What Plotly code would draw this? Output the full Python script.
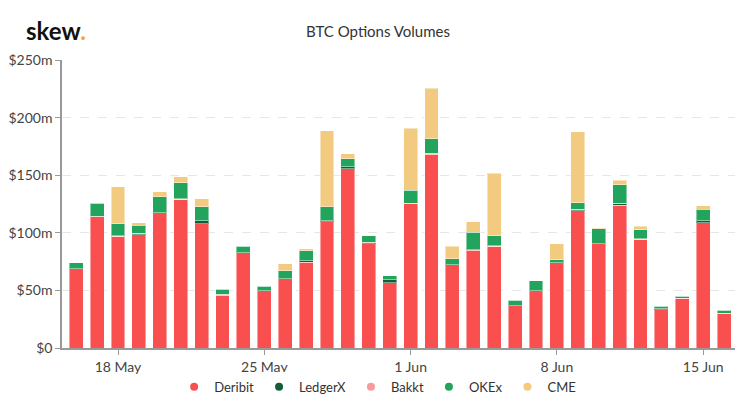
import plotly.graph_objects as go
import pandas as pd

dates = pd.date_range("2020-05-16", "2020-06-16", freq="D")

deribit = [69, 114, 97, 98.2, 117.3, 129.2, 108, 45.8, 82.5, 49.5, 60.2, 74.4, 109.5, 155.5, 90.6, 56.8,
           125.4, 168, 72.1, 84.9, 88.3, 36.8, 49.5, 73.8, 119, 90.6, 124, 94.4, 33.3, 42.9, 108.6, 29.8]
ledgerx = [0, 0.5, 0, 1.4, 0, 0, 2.6, 0.8, 0, 0, 0, 1.2, 0.8, 1.8, 1.2, 2.3,
           0, 1.1, 0.3, 0.5, 0, 0, 0, 0, 1.5, 0, 1.7, 0, 0.6, 0, 1.7, 0]
bakkt = [0, 0, 0.3, 0, 0.3, 0.3, 0, 0, 0, 0, 0, 0, 0, 0, 0, 0,
         0.3, 0, 0, 0, 0.6, 0, 0.3, 0, 0, 0, 0, 0.3, 0, 0.3, 0, 0.3]
okex = [5, 11, 10.7, 7, 13.9, 14.1, 11.9, 4.4, 5.8, 4.1, 7, 8.7, 12.2, 7.2, 5.8, 3.5,
        11.3, 12.5, 4.9, 15.1, 8.4, 4.6, 8.4, 2.9, 5.8, 12.8, 16.2, 7.8, 2.3, 1.7, 10.2, 2.6]
cme = [0, 0, 31.9, 2, 4, 5, 7, 0, 0, 0, 6.1, 2, 66.3, 4, 0, 0,
       53.6, 43.7, 11, 9, 54.5, 0, 0, 13.9, 61.4, 1.1, 3.8, 3.2, 0, 0, 3.2, 0]

series = [("Deribit", deribit, "#f94f4f"),
          ("LedgerX", ledgerx, "#135e37"),
          ("Bakkt", bakkt, "#f99a9a"),
          ("OKEx", okex, "#23a45c"),
          ("CME", cme, "#f2ca80")]

font_family = "Lato, 'Open Sans', sans-serif"

fig = go.Figure()
for name, vals, color in series:
    fig.add_trace(go.Bar(
        x=dates, y=vals, name=name, marker_color=color,
        marker_line=dict(color="rgba(255,255,255,0.45)", width=1),
        showlegend=False,
        hovertemplate="%{x|%d %b}: $%{y}m<extra>" + name + "</extra>",
    ))
for name, vals, color in series:
    fig.add_trace(go.Scatter(
        x=[None], y=[None], mode="markers", name=name,
        marker=dict(color=color, size=8, symbol="circle"),
    ))

fig.update_layout(
    width=743, height=415,
    barmode="stack", bargap=0.335,
    plot_bgcolor="white", paper_bgcolor="white",
    margin=dict(l=57, r=8, t=60, b=67),
    font=dict(family=font_family, size=13, color="#444"),
    legend=dict(orientation="h", x=0.469, xanchor="center", y=-0.135, yanchor="middle",
                traceorder="normal",
                font=dict(size=13, color="#333"),
                itemwidth=30, tracegroupgap=0),
    annotations=[
        dict(text="<b>skew</b><b><span style='color:#f5a623'>.</span></b>",
             xref="paper", yref="paper", x=-0.056, y=1.104, xanchor="left", yanchor="middle",
             showarrow=False, font=dict(size=24, color="#111", family=font_family)),
        dict(text="BTC Options Volumes", xref="paper", yref="paper", x=0.469, y=1.101,
             xanchor="center", yanchor="middle", showarrow=False,
             font=dict(size=15, color="#333", family=font_family)),
    ],
)

fig.update_xaxes(
    type="date",
    range=["2020-05-15 07:40", "2020-06-16 12:30"],
    tick0="2020-05-18", dtick=7 * 24 * 3600 * 1000,
    tickformat="%-d %b",
    showgrid=False, showline=True, linecolor="#999", linewidth=1.5,
    ticks="outside", ticklen=5, tickcolor="#999",
    tickfont=dict(size=14, color="#444"),
)
fig.update_yaxes(
    range=[0, 250], dtick=50,
    tickvals=[0, 50, 100, 150, 200, 250],
    ticktext=["$0", "$50m", "$100m", "$150m", "$200m", "$250m"],
    showgrid=True, gridcolor="#e6e6e6", griddash="dash", gridwidth=1,
    showline=True, linecolor="#999", linewidth=1.5,
    ticks="outside", ticklen=5, tickcolor="#999",
    tickfont=dict(size=14, color="#444"),
    zeroline=False,
)

fig.write_html("out.html")
